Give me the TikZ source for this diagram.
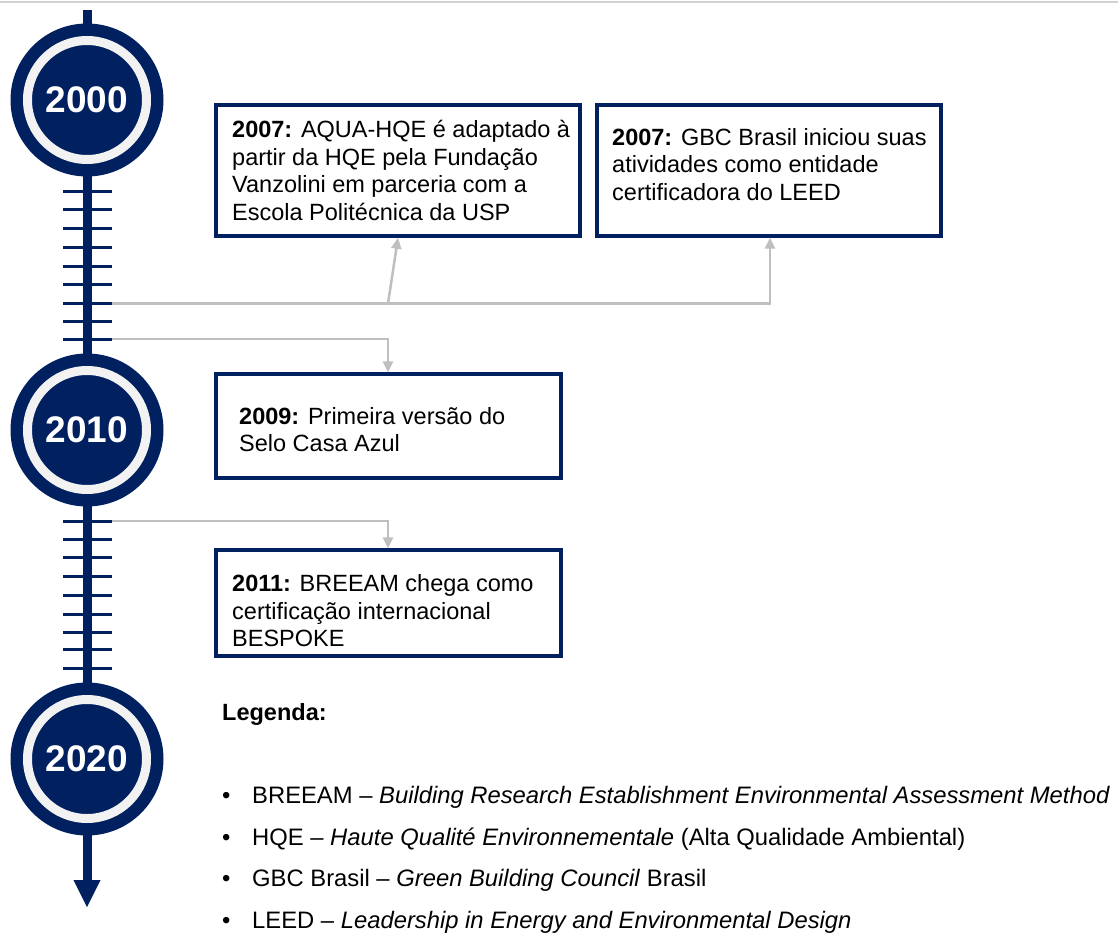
\documentclass[tikz,border=0pt]{standalone}
\usepackage{fontspec}
\setmainfont{Liberation Sans}
\usetikzlibrary{arrows.meta,calc}
\definecolor{navy}{RGB}{0,32,96}
\definecolor{conngray}{RGB}{191,191,191}
\definecolor{ringwhite}{RGB}{242,242,242}
\definecolor{topline}{RGB}{210,210,210}
\begin{document}
\begin{tikzpicture}[x=1pt,y=-1pt,
  yearc/.style={circle,fill=navy,minimum size=153,inner sep=0,text=white,
    font=\fontsize{37}{40}\selectfont\bfseries,
    path picture={\draw[ringwhite,line width=9] (path picture bounding box.center) circle (59.5);}},
  tick/.style={draw=navy,line width=3},
  spine/.style={draw=navy,line width=9},
  box/.style={draw=navy,line width=3.5,fill=white,inner sep=0},
  txt/.style={inner sep=0,anchor=north west,align=left,font=\fontsize{23.5}{27.5}\selectfont},
  conn/.style={draw=conngray,line width=2.5,-{Triangle[width=10,length=11]}},
  leg/.style={inner sep=0,anchor=base west,font=\fontsize{23.8}{27.5}\selectfont}]
\useasboundingbox (0,0) rectangle (1118,933);
\draw[topline,line width=1.5] (0,2) -- (1118,2);
% spine
\coordinate (top) at (87,10);
\coordinate (bot) at (87,882);
\coordinate (tip) at (87,907);
\draw[spine] (top) -- (bot);
\fill[navy] (73.5,880) -- (100.5,880) -- (tip) -- cycle;
% ticks
\foreach \y [count=\i] in {192,210,228.5,247.5,266,284.5,303.5,321,339}{
  \coordinate (ta\i) at (112,\y);
  \draw[tick] (63,\y) -- (ta\i);
}
\foreach \y [count=\i] in {521,539,557.5,576.5,595,614,632.5,649.5,668}{
  \coordinate (tb\i) at (112,\y);
  \draw[tick] (63,\y) -- (tb\i);
}
% year circles
\node[yearc] (y2000) at (87,100) {2000};
\node[yearc] (y2010) at (87,430) {2010};
\node[yearc] (y2020) at (87,759) {2020};
% boxes
\node[box,minimum width=364,minimum height=131] (b1) at (398,170.5) {};
\node[box,minimum width=344,minimum height=131] (b2) at (769,170.5) {};
\node[box,minimum width=345,minimum height=104] (b3) at (388.5,426) {};
\node[box,minimum width=345,minimum height=106] (b4) at (388.5,603) {};
\node[txt] (t1) at (232,114.7) {\rule{0pt}{23pt}\textbf{2007:} AQUA-HQE é adaptado à\\partir da HQE pela Fundação\\Vanzolini em parceria com a\\Escola Politécnica da USP};
\node[txt] (t2) at (612,122) {\rule{0pt}{23pt}\textbf{2007:} GBC Brasil iniciou suas\\atividades como entidade\\certificadora do LEED};
\node[txt] (t3) at (239,401) {\rule{0pt}{23pt}\textbf{2009:} Primeira versão do\\Selo Casa Azul};
\node[txt] (t4) at (232,568.7) {\rule{0pt}{23pt}\textbf{2011:} BREEAM chega como\\certificação internacional\\BESPOKE};
% connectors
\coordinate (k1) at (398,0);
\coordinate (k2) at (770,0);
\coordinate (k3) at (388,0);
\coordinate (br) at (388,303.5);
\draw[conn] (ta7) -- (ta7 -| k2) -- (b2.south -| k2);
\draw[conn] (br) -- (b1.south -| k1);
\draw[conn] (ta9) -- (ta9 -| k3) -- (b3.north -| k3);
\draw[conn] (tb1) -- (tb1 -| k3) -- (b4.north -| k3);
% legend
\node[leg,font=\fontsize{23.5}{27.5}\selectfont\bfseries] (lg) at (222,720) {Legenda:};
\node[leg] (l1) at (222,803) {\makebox[30pt][l]{•}BREEAM – \textit{Building Research Establishment Environmental Assessment Method}};
\node[leg] (l2) at (222,845) {\makebox[30pt][l]{•}HQE – \textit{Haute Qualité Environnementale} (Alta Qualidade Ambiental)};
\node[leg] (l3) at (222,886) {\makebox[30pt][l]{•}GBC Brasil – \textit{Green Building Council} Brasil};
\node[leg] (l4) at (222,928) {\makebox[30pt][l]{•}LEED – \textit{Leadership in Energy and Environmental Design}};
\end{tikzpicture}
\end{document}
